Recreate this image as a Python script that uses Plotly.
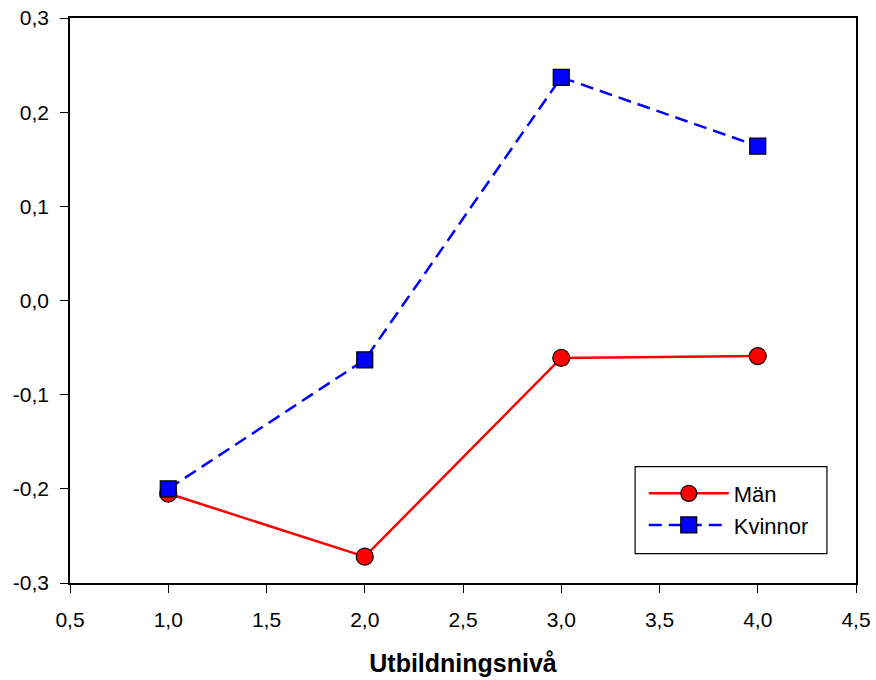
import plotly.graph_objects as go

levels = [1, 2, 3, 4]
man_values = [-0.205, -0.272, -0.061, -0.059]
kvinnor_values = [-0.200, -0.063, 0.237, 0.164]
series_names = ["Män", "Kvinnor"]
x_ticks = [0.5, 1.0, 1.5, 2.0, 2.5, 3.0, 3.5, 4.0, 4.5]
x_ticklabels = ["0,5", "1,0", "1,5", "2,0", "2,5", "3,0", "3,5", "4,0", "4,5"]
y_ticks = [-0.3, -0.2, -0.1, 0.0, 0.1, 0.2, 0.3]
y_ticklabels = ["-0,3", "-0,2", "-0,1", "0,0", "0,1", "0,2", "0,3"]
x_title = "Utbildningsnivå"

FONT = "Liberation Sans, Arial, sans-serif"

fig = go.Figure()
fig.add_trace(go.Scatter(
    x=levels, y=man_values, name=series_names[0], mode="lines+markers",
    line=dict(color="#ff0000", width=2.5),
    marker=dict(symbol="circle", size=17, color="#ff0000", line=dict(color="black", width=1.2)),
))
fig.add_trace(go.Scatter(
    x=levels, y=kvinnor_values, name=series_names[1], mode="lines+markers",
    line=dict(color="#0000ff", width=2.5, dash="13px,7px"),
    marker=dict(symbol="square", size=16, color="#0000ff", line=dict(color="black", width=1.2)),
))

axis_common = dict(
    showgrid=False, zeroline=False, showline=True, linecolor="black", linewidth=1.5,
    mirror=True, ticks="outside", ticklen=8, tickwidth=1.2, tickcolor="black",
    tickfont=dict(family=FONT, size=21, color="black"),
)

fig.update_layout(
    width=876, height=680,
    margin=dict(l=70, r=20, t=18, b=97, autoexpand=False),
    paper_bgcolor="white", plot_bgcolor="white",
    xaxis=dict(range=[0.5, 4.5], tickvals=x_ticks, ticktext=x_ticklabels,
               ticklabelstandoff=9,
               title=dict(text="<b>" + x_title + "</b>", standoff=25,
                          font=dict(family=FONT, size=25, color="black")),
               **axis_common),
    yaxis=dict(range=[-0.3, 0.3], tickvals=y_ticks, ticktext=y_ticklabels,
               ticklabelstandoff=7, **axis_common),
    legend=dict(x=0.730, y=0.130, xanchor="left", yanchor="middle",
                bgcolor="rgba(0,0,0,0)", borderwidth=0,
                font=dict(family=FONT, size=22, color="black"),
                itemwidth=80, tracegroupgap=0, traceorder="normal"),
    showlegend=True,
    shapes=[dict(type="rect", xref="paper", yref="paper",
                 x0=0.719, x1=0.963, y0=0.052, y1=0.206,
                 line=dict(color="black", width=1.2), fillcolor="white", layer="above")],
)

fig.write_html("out.html")
